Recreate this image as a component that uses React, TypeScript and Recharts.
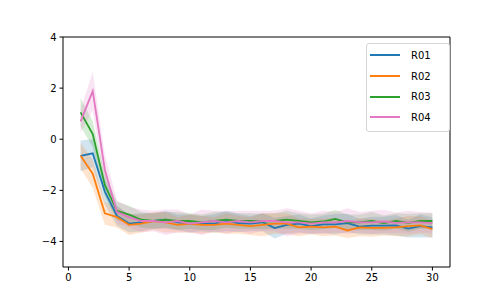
import {
  Area,
  ComposedChart,
  Line,
  ReferenceLine,
  XAxis,
  YAxis,
} from 'recharts';

const FONT = '"DejaVu Sans", sans-serif';

const steps = [1, 2, 3, 4, 5, 6, 7, 8, 9, 10, 11, 12, 13, 14, 15, 16, 17, 18, 19, 20, 21, 22, 23, 24, 25, 26, 27, 28, 29, 30];

const r01 = [-0.65, -0.55, -2.05, -3.0, -3.3, -3.25, -3.2, -3.15, -3.25, -3.3, -3.3, -3.3, -3.2, -3.28, -3.3, -3.25, -3.48, -3.35, -3.3, -3.4, -3.33, -3.33, -3.28, -3.42, -3.38, -3.38, -3.37, -3.5, -3.4, -3.45];
const r02 = [-0.65, -1.35, -2.9, -3.05, -3.35, -3.3, -3.2, -3.25, -3.35, -3.3, -3.35, -3.35, -3.3, -3.35, -3.4, -3.35, -3.3, -3.3, -3.45, -3.42, -3.45, -3.42, -3.57, -3.45, -3.47, -3.47, -3.45, -3.4, -3.37, -3.52];
const r03 = [1.05, 0.2, -1.8, -2.8, -2.95, -3.15, -3.2, -3.15, -3.2, -3.2, -3.25, -3.2, -3.15, -3.2, -3.2, -3.22, -3.2, -3.15, -3.2, -3.25, -3.22, -3.12, -3.25, -3.25, -3.2, -3.28, -3.2, -3.27, -3.2, -3.2];
const r04 = [0.7, 1.88, -1.2, -2.85, -3.05, -3.2, -3.2, -3.25, -3.2, -3.3, -3.25, -3.2, -3.25, -3.2, -3.25, -3.2, -3.2, -3.25, -3.25, -3.3, -3.25, -3.25, -3.2, -3.25, -3.25, -3.22, -3.27, -3.25, -3.25, -3.28];

// half-width of the shaded band around each mean
const r01Spread = [0.6, 0.55, 0.5, 0.4, 0.35, 0.35, 0.3, 0.35, 0.3, 0.35, 0.3, 0.35, 0.4, 0.35, 0.3, 0.35, 0.4, 0.35, 0.35, 0.3, 0.35, 0.4, 0.35, 0.3, 0.35, 0.35, 0.4, 0.35, 0.45, 0.4];
const r02Spread = [0.5, 0.55, 0.45, 0.4, 0.4, 0.35, 0.35, 0.4, 0.3, 0.35, 0.35, 0.3, 0.4, 0.35, 0.35, 0.45, 0.4, 0.4, 0.35, 0.3, 0.35, 0.35, 0.3, 0.35, 0.35, 0.3, 0.35, 0.4, 0.35, 0.35];
const r03Spread = [0.55, 0.5, 0.45, 0.35, 0.35, 0.3, 0.3, 0.3, 0.35, 0.3, 0.3, 0.35, 0.3, 0.3, 0.3, 0.3, 0.3, 0.35, 0.3, 0.3, 0.3, 0.35, 0.3, 0.3, 0.35, 0.3, 0.3, 0.35, 0.3, 0.3];
const r04Spread = [0.45, 0.75, 0.6, 0.45, 0.4, 0.45, 0.4, 0.5, 0.45, 0.35, 0.5, 0.4, 0.45, 0.4, 0.45, 0.4, 0.4, 0.55, 0.45, 0.4, 0.45, 0.4, 0.5, 0.4, 0.45, 0.45, 0.4, 0.45, 0.4, 0.4];

const xTicks = [0, 5, 10, 15, 20, 25, 30];
const yTicks = [-4, -2, 0, 2, 4];

const SERIES = [
  { key: 'R01', values: r01, spread: r01Spread, color: '#1f77b4' },
  { key: 'R02', values: r02, spread: r02Spread, color: '#ff7f0e' },
  { key: 'R03', values: r03, spread: r03Spread, color: '#2ca02c' },
  { key: 'R04', values: r04, spread: r04Spread, color: '#e377c2' },
];

const data = steps.map((x, i) => {
  const row: Record<string, number | number[]> = { x };
  SERIES.forEach((s) => {
    row[s.key] = s.values[i];
    row[s.key + '_band'] = [s.values[i] - s.spread[i], s.values[i] + s.spread[i]];
  });
  return row;
});

const fmt = (v: number) => (v < 0 ? '\u2212' + Math.abs(v) : String(v));

const tickStyle = { fill: '#000', fontSize: 10, fontFamily: FONT };

function LegendBox() {
  return (
    <div
      style={{
        position: 'absolute',
        left: 366,
        top: 43,
        width: 79,
        border: '1px solid #d6d6d6',
        borderRadius: 3,
        background: 'rgba(255,255,255,0.8)',
        padding: '1px 0 3px 3px',
        fontFamily: FONT,
        fontSize: 10,
      }}
    >
      {SERIES.map((s) => (
        <div key={s.key} style={{ height: 20.7, display: 'flex', alignItems: 'center' }}>
          <div style={{ width: 30, height: 2, background: s.color }} />
          <span style={{ marginLeft: 11, color: '#000' }}>{s.key}</span>
        </div>
      ))}
    </div>
  );
}

export default function App() {
  return (
    <div style={{ position: 'absolute', left: 0, top: 0, width: 500, height: 300, background: '#fff' }}>
      <ComposedChart
        width={500}
        height={300}
        data={data}
        margin={{ top: 37, right: 50, bottom: 0, left: 0 }}
      >
        <XAxis
          dataKey="x"
          type="number"
          domain={[-0.45, 31.45]}
          ticks={xTicks}
          allowDataOverflow
          height={33}
          tick={tickStyle}
          tickSize={3.5}
          tickMargin={3}
          stroke="#000"
          tickFormatter={fmt}
        />
        <YAxis
          type="number"
          domain={[-5, 4]}
          ticks={yTicks}
          allowDataOverflow
          width={63}
          tick={tickStyle}
          tickSize={3.5}
          tickMargin={3}
          stroke="#000"
          tickFormatter={fmt}
        />
        {SERIES.map((s) => [
          <Line
            key={s.key}
            dataKey={s.key}
            type="linear"
            stroke={s.color}
            strokeWidth={1.8}
            dot={false}
            activeDot={false}
            isAnimationActive={false}
          />,
          <Area
            key={s.key + '_band'}
            dataKey={s.key + '_band'}
            type="linear"
            stroke="none"
            fill={s.color}
            fillOpacity={0.2}
            dot={false}
            activeDot={false}
            isAnimationActive={false}
          />,
        ])}
        <ReferenceLine y={4} stroke="#000" />
        <ReferenceLine x={31.45} stroke="#000" />
      </ComposedChart>
      <LegendBox />
    </div>
  );
}
